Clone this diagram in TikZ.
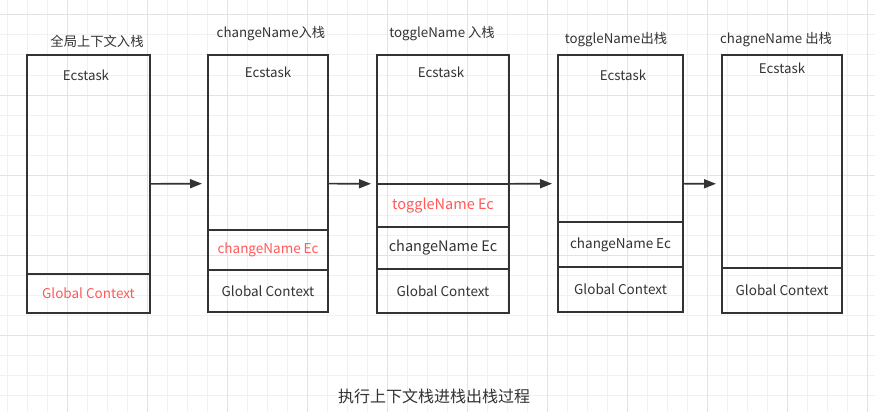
\documentclass[tikz,border=0pt]{standalone}
\usepackage{fontspec}
\setmainfont{Noto Sans CJK SC}
\usetikzlibrary{arrows.meta}
\definecolor{gridminor}{HTML}{F1F1F1}
\definecolor{gridmajor}{HTML}{E3E3E3}
\definecolor{inkdark}{HTML}{333333}
\definecolor{hotred}{HTML}{FF5A5A}
\tikzset{
    stackbox/.style={draw=inkdark, line width=2pt, inner sep=0pt},
    cell/.style={draw=inkdark, line width=2pt, inner sep=0pt, font=\fontsize{13.5}{16}\selectfont, text=inkdark},
    newcell/.style={cell, text=hotred},
    title/.style={font=\fontsize{13.3}{16}\selectfont, text=inkdark},
    push/.style={-{Triangle[length=12pt,width=9pt]}, line width=1.6pt, draw=inkdark, shorten >=5pt}
}

\begin{document}
\begin{tikzpicture}[x=1pt, y=-1pt]
        \useasboundingbox (0,0) rectangle (875,412);
        \fill[white] (0,0) rectangle (875,412);
        % background grid
        \foreach \gx in {7,27,...,867} {
            \draw[gridminor, line width=1pt] (\gx,0) -- (\gx,412);
        }
        \foreach \gy in {15,35,...,412} {
            \draw[gridminor, line width=1pt] (0,\gy) -- (875,\gy);
        }
        \foreach \gx in {67,147,...,867} {
            \draw[gridmajor, line width=1pt] (\gx,0) -- (\gx,412);
        }
        \foreach \gy in {15,95,...,412} {
            \draw[gridmajor, line width=1pt] (0,\gy) -- (875,\gy);
        }

        % stacks
        \node[stackbox, minimum width=123pt, minimum height=258pt] (s1) at (88.5,184) {};
        \node[stackbox, minimum width=120pt, minimum height=257pt] (s2) at (268,183.5) {};
        \node[stackbox, minimum width=132pt, minimum height=258pt] (s3) at (443,184) {};
        \node[stackbox, minimum width=125pt, minimum height=257pt] (s4) at (620.5,183.5) {};
        \node[stackbox, minimum width=120pt, minimum height=258pt] (s5) at (782,184) {};

        % titles
        \node[title] (t1) at (97,41) {全局上下文入栈};
        \node[title] (t2) at (271,34) {changeName入栈};
        \node[title] (t3) at (442,34) {toggleName 入栈};
        \node[title] (t4) at (616,40) {toggleName出栈};
        \node[title] (t5) at (776,40) {chagneName 出栈};

        % task labels
        \node[title] (e1) at (86,75) {Ecstask};
        \node[title] (e2) at (268,72) {Ecstask};
        \node[title] (e3) at (441,72) {Ecstask};
        \node[title] (e4) at (623,75) {Ecstask};
        \node[title] (e5) at (782,68) {Ecstask};

        % stack frames
        \node[newcell, minimum width=123pt, minimum height=39pt] (g1) at (88.5,293.5) {Global Context};

        \node[newcell, minimum width=120pt, minimum height=40pt] (c2) at (268,250) {changeName Ec};
        \node[cell, minimum width=120pt, minimum height=42pt] (g2) at (268,291) {Global Context};

        \node[newcell, minimum width=132pt, minimum height=43pt, font=\fontsize{14.5}{17}\selectfont] (n3) at (443,205.5) {toggleName Ec};
        \node[cell, minimum width=132pt, minimum height=42pt, font=\fontsize{14.5}{17}\selectfont] (c3) at (443,248) {changeName Ec};
        \node[cell, minimum width=132pt, minimum height=44pt] (g3) at (443,291) {Global Context};

        \node[cell, minimum width=125pt, minimum height=45pt] (c4) at (620.5,244.5) {changeName Ec};
        \node[cell, minimum width=125pt, minimum height=45pt] (g4) at (620.5,289.5) {Global Context};

        \node[cell, minimum width=120pt, minimum height=45pt] (g5) at (782,290.5) {Global Context};

        % transitions
        \draw[push] (s1) -- (s2);
        \draw[push] (s2) -- (s3);
        \draw[push] (s3) -- (s4);
        \draw[push] (s4) -- (s5);

        \node[title, font=\fontsize{16}{19}\selectfont] (cap) at (434,396) {执行上下文栈进栈出栈过程};
    \end{tikzpicture}
\end{document}
